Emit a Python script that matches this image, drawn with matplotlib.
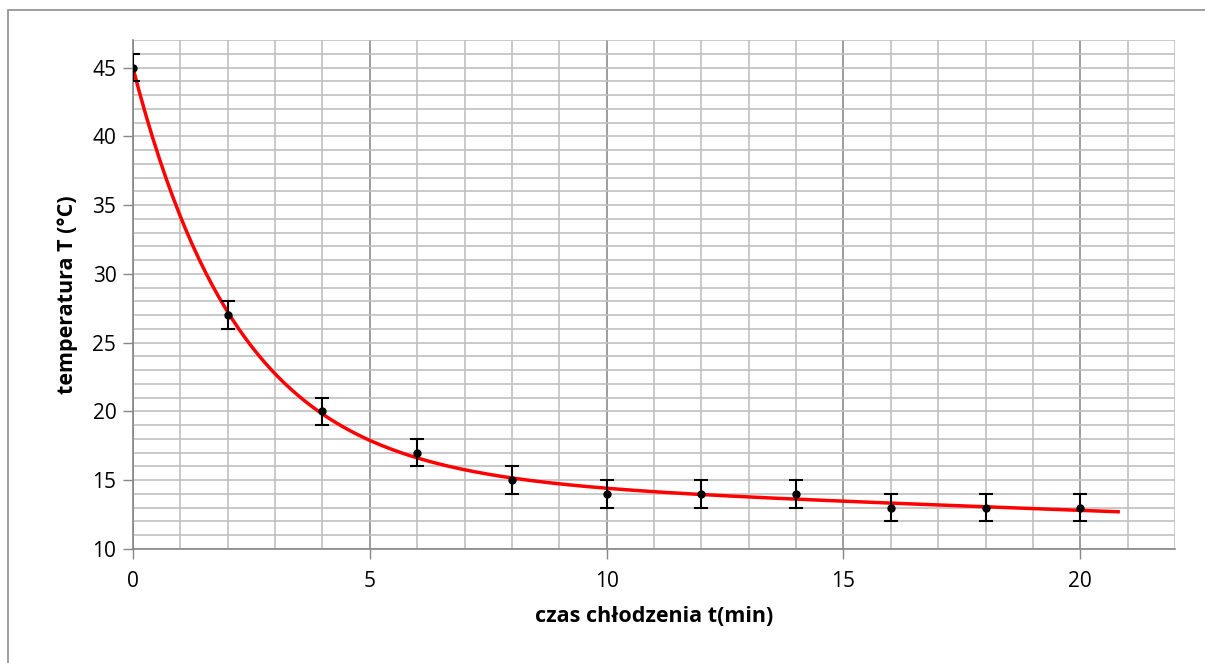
import numpy as np
import matplotlib.pyplot as plt
from matplotlib.patches import Rectangle

# Messdaten
czas = [0, 2, 4, 6, 8, 10, 12, 14, 16, 18, 20]
temperatura = [45, 27, 20, 17, 15, 14, 14, 14, 13, 13, 13]
blad = [1, 1, 1, 1, 1, 1, 1, 1, 1, 1, 1]
x_ticks = [0, 5, 10, 15, 20]
y_ticks = [10, 15, 20, 25, 30, 35, 40, 45]

plt.rcParams['font.family'] = ['Open Sans', 'DejaVu Sans']

# Linia trendu: T = a + b*exp(-k t) + c t (najmniejsze kwadraty, k z siatki)
t = np.array(czas, dtype=float)
T = np.array(temperatura, dtype=float)
best = None
for k in np.linspace(0.05, 2.0, 400):
    A = np.column_stack([np.ones_like(t), np.exp(-k * t), t])
    coef, res, _, _ = np.linalg.lstsq(A, T, rcond=None)
    err = np.sum((A @ coef - T) ** 2)
    if best is None or err < best[0]:
        best = (err, k, coef)
_, k, (a, b, c) = best
tt = np.linspace(0, 20.8, 300)
fit = a + b * np.exp(-k * tt) + c * tt

fig = plt.figure(figsize=(12.05, 6.63), dpi=100)
ax = fig.add_axes([133 / 1205, 1 - 549 / 663, (1175 - 133) / 1205, (549 - 40) / 663])

# ramka wykresu
fig.patches.append(Rectangle((8 / 1205, -0.05), 1.2, 1 - 10 / 663 + 0.05, transform=fig.transFigure,
                             fill=False, edgecolor='#8c8c8c', linewidth=1.2))

ax.set_xlim(0, 22)
ax.set_ylim(10, 47)

# siatka
for x in range(0, 23):
    col = '#8c8c8c' if x % 5 == 0 else '#c0c0c0'
    ax.axvline(x, color=col, linewidth=1.2, zorder=0)
for y in range(10, 48):
    ax.axhline(y, color='#c0c0c0', linewidth=1.2, zorder=0)

ax.plot(tt, fit, color='#ff0000', linewidth=2.5, zorder=3)
ax.errorbar(czas, temperatura, yerr=blad, fmt='o', color='black', markersize=5,
            capsize=5, elinewidth=1.5, capthick=1.5, zorder=4)

ax.set_xticks(x_ticks)
ax.set_yticks(y_ticks)
ax.tick_params(direction='out', length=7, width=1, color='#868686', labelsize=15, pad=9)
ax.tick_params(axis='y', pad=5)
for s in ['top', 'right']:
    ax.spines[s].set_visible(False)
for s in ['left', 'bottom']:
    ax.spines[s].set_color('#868686')
    ax.spines[s].set_linewidth(1.2)

ax.set_xlabel('czas chłodzenia t(min)', fontsize=15.5, fontweight='bold', labelpad=10)
ax.set_ylabel('temperatura T (°C)', fontsize=15.5, fontweight='bold', labelpad=10)

plt.savefig('out.png', dpi=100)
